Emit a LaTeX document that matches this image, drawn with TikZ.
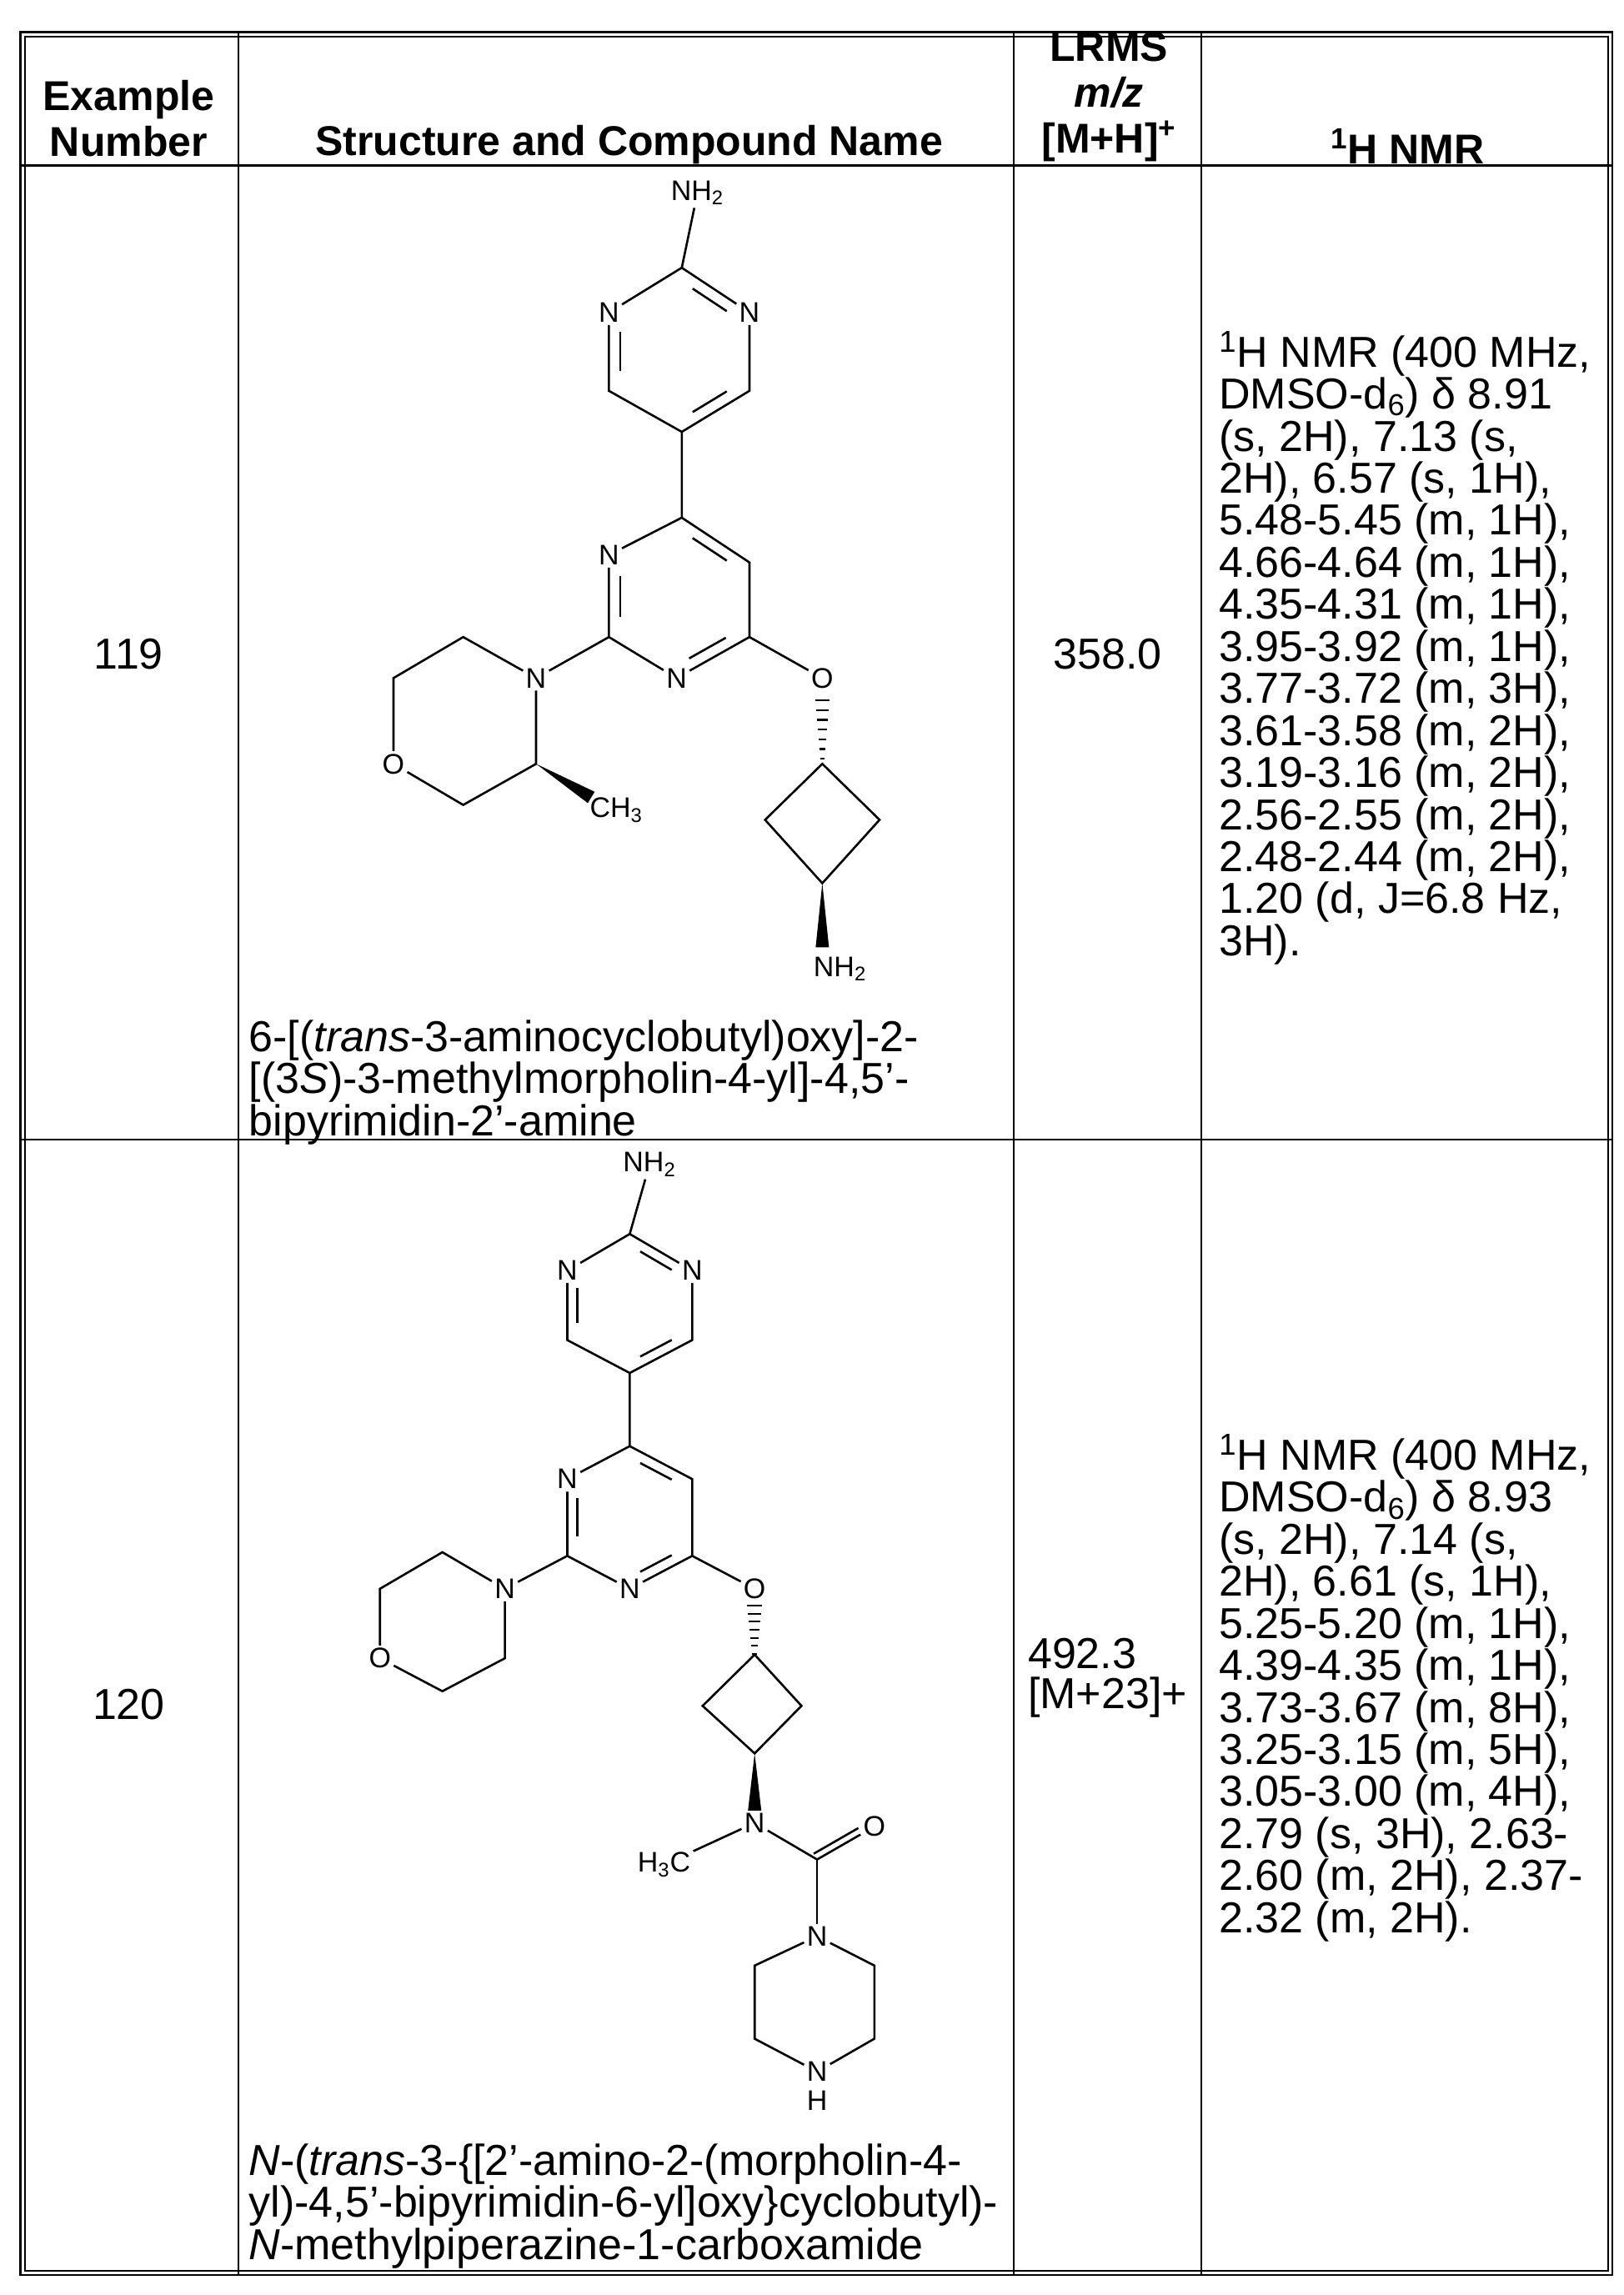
\documentclass[tikz,border=0pt]{standalone}
\usepackage{fontspec}
\setmainfont{Liberation Sans}
\usetikzlibrary{calc}
\newcommand\bodyfs{\fontsize{26}{23.8}\selectfont}
\newcommand\hdrfs{\fontsize{25}{27.5}\selectfont}
\newcommand\atomfs{\fontsize{17}{18}\selectfont}
\newcommand\innerbond[3]{\draw[bond] ($ ($(#1)!0.2!(#2)$)!0.16!(#3) $) -- ($ ($(#2)!0.2!(#1)$)!0.16!(#3) $);}
\tikzset{
 atom/.style={font=\atomfs, inner sep=1.5pt},
 bond/.style={line width=1.3pt},
 tline/.style={line width=1.2pt},
 txt/.style={font=\bodyfs, inner sep=0pt, align=left},
 hdr/.style={font=\hdrfs\bfseries, inner sep=0pt, align=center}
}
\begin{document}
\begin{tikzpicture}[x=0.8775pt,y=-0.8775pt]
\useasboundingbox (0,0) rectangle (1110,1568.7);
% table
\draw[tline] (14,22) rectangle (1102,1555);
\draw[line width=0.8pt] (17,25) rectangle (1099,1552);
\draw[tline] (163,22) -- (163,1555);
\draw[tline] (693,22) -- (693,1555);
\draw[tline] (821,22) -- (821,1555);
\draw[tline] (14,113) -- (1102,113);
\draw[tline] (14,779) -- (1102,779);
% header
\node[hdr] (h1) at (88,81) {Example\\Number};
\node[hdr] (h2) at (430,99) {Structure and Compound Name};
\node[hdr] (h3) at (758,66) {LRMS\\\textit{m/z}\\{}[M+H]\textsuperscript{+}};
\node[hdr] (h4) at (962,100) {\textsuperscript{1}H NMR};
% row 1 text
\node[txt] (n119) at (88,447) {119};
\node[txt] (ms119) at (757,447) {358.0};
\node[txt,anchor=north west] (nmr119) at (833,226) {\textsuperscript{1}H NMR (400 MHz,\\DMSO-d\textsubscript{6}) δ 8.91\\(s, 2H), 7.13 (s,\\2H), 6.57 (s, 1H),\\5.48-5.45 (m, 1H),\\4.66-4.64 (m, 1H),\\4.35-4.31 (m, 1H),\\3.95-3.92 (m, 1H),\\3.77-3.72 (m, 3H),\\3.61-3.58 (m, 2H),\\3.19-3.16 (m, 2H),\\2.56-2.55 (m, 2H),\\2.48-2.44 (m, 2H),\\1.20 (d, J=6.8 Hz,\\3H).};
\node[txt,anchor=north west] (name119) at (170,697) {6-[(\textit{trans}-3-aminocyclobutyl)oxy]-2-\\{}[(3\textit{S})-3-methylmorpholin-4-yl]-4,5'-\\bipyrimidin-2'-amine};
% row 2 text
\node[txt] (n120) at (88,1165) {120};
\node[txt] (ms120) at (757,1147) {492.3\\{}[M+23]+};
\node[txt,anchor=north west] (nmr120) at (833,980) {\textsuperscript{1}H NMR (400 MHz,\\DMSO-d\textsubscript{6}) δ 8.93\\(s, 2H), 7.14 (s,\\2H), 6.61 (s, 1H),\\5.25-5.20 (m, 1H),\\4.39-4.35 (m, 1H),\\3.73-3.67 (m, 8H),\\3.25-3.15 (m, 5H),\\3.05-3.00 (m, 4H),\\2.79 (s, 3H), 2.63-\\2.60 (m, 2H), 2.37-\\2.32 (m, 2H).};
\node[txt,anchor=north west] (name120) at (170,1465) {\textit{N}-(\textit{trans}-3-\{[2'-amino-2-(morpholin-4-\\yl)-4,5'-bipyrimidin-6-yl]oxy\}cyclobutyl)-\\\textit{N}-methylpiperazine-1-carboxamide};

% ===== molecule 1 =====
\begin{scope}[x=0.6243pt,y=-0.4475pt,yshift=2.76pt]
\node[atom] (nh2a) at (670,265) {NH\textsubscript{2}};
\coordinate (a2) at (655,365);
\node[atom] (na1) at (585,425) {N};
\node[atom] (na3) at (720,425) {N};
\coordinate (a6) at (585,530);
\coordinate (a4) at (720,530);
\coordinate (a5) at (655,585);
\coordinate (ca) at (652,477);
\draw[bond] (nh2a) -- (a2) -- (na1) -- (a6) -- (a5) -- (a4) -- (na3) -- (a2);
\innerbond{a2}{na3}{ca}\innerbond{na1}{a6}{ca}\innerbond{a5}{a4}{ca}
\coordinate (b4) at (655,700);
\node[atom] (nb3) at (585,750) {N};
\coordinate (b2) at (585,860);
\node[atom] (nb1) at (650,915) {N};
\coordinate (b6) at (720,860);
\coordinate (b5) at (720,760);
\coordinate (cb) at (652,808);
\draw[bond] (a5) -- (b4) -- (nb3) -- (b2) -- (nb1) -- (b6) -- (b5) -- (b4);
\innerbond{b4}{b5}{cb}\innerbond{nb3}{b2}{cb}\innerbond{nb1}{b6}{cb}
\node[atom] (nm) at (515,915) {N};
\coordinate (m1) at (445,860);
\coordinate (m2) at (378,915);
\node[atom] (om) at (378,1030) {O};
\coordinate (m3) at (445,1085);
\coordinate (m4) at (515,1030);
\draw[bond] (b2) -- (nm) -- (m1) -- (m2) -- (om) -- (m3) -- (m4) -- (nm);
\node[atom,anchor=west] (ch3) at (564,1092) {CH\textsubscript{3}};
\fill (m4) -- (564.7,1082.6) -- (571.3,1067.4) -- cycle;
\node[atom] (o1) at (790,915) {O};
\draw[bond] (b6) -- (o1);
\coordinate (q1) at (790,1030);
\coordinate (q2) at (845,1105);
\coordinate (q3) at (790,1190);
\coordinate (q4) at (735,1105);
\draw[bond,line join=miter] (q1) -- (q2) -- (q3) -- (q4) -- cycle;
\foreach \t in {0,1,...,6}{\pgfmathsetmacro\yy{945+\t*13}\pgfmathsetmacro\w{7-\t*0.8}
 \draw[line width=1.1pt] (790-\w,\yy) -- (790+\w,\yy);}
\node[atom] (nh2b) at (807,1305) {NH\textsubscript{2}};
\fill (q3) -- (783.6,1276) -- (796.4,1276) -- cycle;
\end{scope}

% ===== molecule 2 =====
\begin{scope}[x=0.6243pt,y=-0.4388pt,yshift=-678.7pt]
\node[atom] (nh2c) at (624,45) {NH\textsubscript{2}};
\coordinate (a2) at (605,140);
\node[atom] (na1) at (545,190) {N};
\node[atom] (na3) at (665,190) {N};
\coordinate (a6) at (545,285);
\coordinate (a4) at (665,285);
\coordinate (a5) at (605,330);
\coordinate (ca) at (605,237);
\draw[bond] (nh2c) -- (a2) -- (na1) -- (a6) -- (a5) -- (a4) -- (na3) -- (a2);
\innerbond{a2}{na3}{ca}\innerbond{na1}{a6}{ca}\innerbond{a5}{a4}{ca}
\coordinate (b4) at (605,430);
\node[atom] (nb3) at (545,475) {N};
\coordinate (b2) at (545,580);
\node[atom] (nb1) at (605,625) {N};
\coordinate (b6) at (665,580);
\coordinate (b5) at (665,475);
\coordinate (cb) at (605,527);
\draw[bond] (a5) -- (b4) -- (nb3) -- (b2) -- (nb1) -- (b6) -- (b5) -- (b4);
\innerbond{b4}{b5}{cb}\innerbond{nb3}{b2}{cb}\innerbond{nb1}{b6}{cb}
\node[atom] (nm) at (485,625) {N};
\coordinate (m1) at (425,575);
\coordinate (m2) at (365,625);
\node[atom] (om) at (365,720) {O};
\coordinate (m3) at (425,765);
\coordinate (m4) at (485,720);
\draw[bond] (b2) -- (nm) -- (m1) -- (m2) -- (om) -- (m3) -- (m4) -- (nm);
\node[atom] (o1) at (725,625) {O};
\draw[bond] (b6) -- (o1);
\coordinate (q1) at (725,715);
\coordinate (q2) at (770,785);
\coordinate (q3) at (725,850);
\coordinate (q4) at (675,785);
\draw[bond,line join=miter] (q1) -- (q2) -- (q3) -- (q4) -- cycle;
\foreach \t in {0,1,...,6}{\pgfmathsetmacro\yy{648+\t*11}\pgfmathsetmacro\w{7-\t*0.8}
 \draw[line width=1.1pt] (725-\w,\yy) -- (725+\w,\yy);}
\fill (q3) -- (718.6,928) -- (731.4,928) -- cycle;
\node[atom] (n5) at (725,945) {N};
\node[atom] (h3c) at (638,1002) {H\textsubscript{3}C};
\coordinate (c7) at (785,995);
\node[atom] (o2) at (840,950) {O};
\draw[bond] (h3c) -- (n5) -- (c7) -- (o2);
\draw[bond] ($(c7)+(-3.25,-7.9)$) -- ($(c7)!0.78!(o2)+(-3.25,-7.9)$);
\node[atom] (n6) at (785,1100) {N};
\draw[bond] (c7) -- (n6);
\coordinate (p1) at (840,1140);
\coordinate (p2) at (840,1240);
\node[atom] (nh) at (785,1285) {N};
\coordinate (p3) at (725,1240);
\coordinate (p4) at (725,1140);
\draw[bond] (n6) -- (p1) -- (p2) -- (nh) -- (p3) -- (p4) -- (n6);
\node[atom] (hh) at (785,1325) {H};
\end{scope}
\end{tikzpicture}
\end{document}
